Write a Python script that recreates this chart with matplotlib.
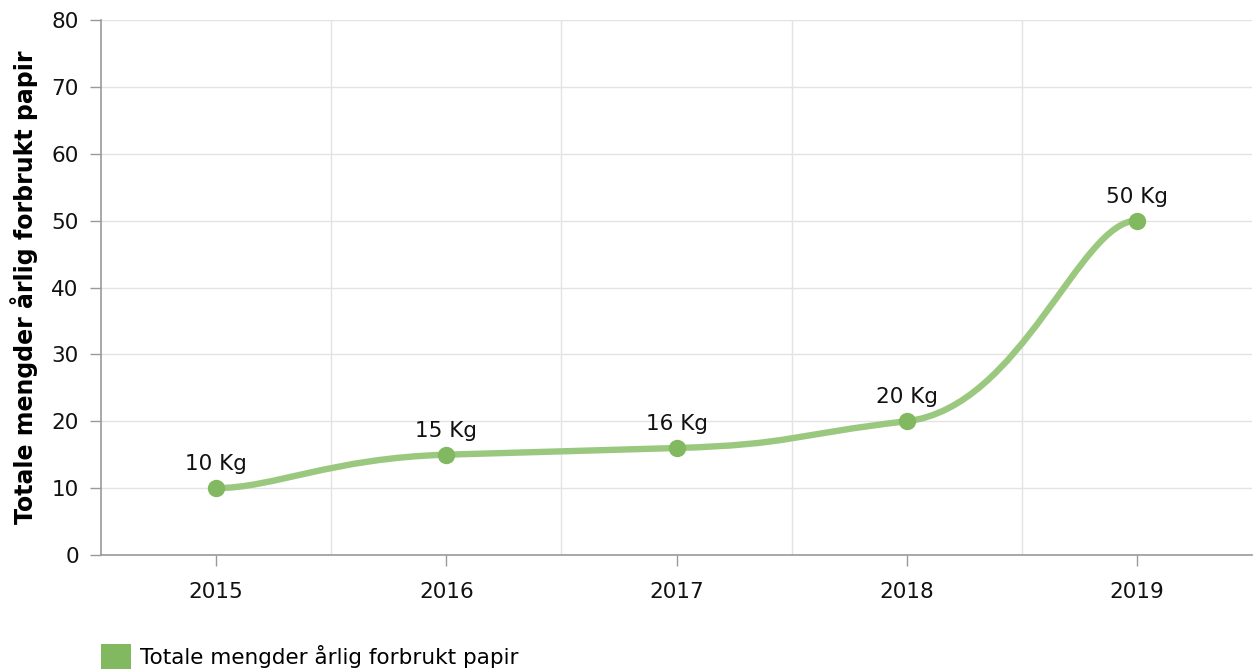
"""Totale mengder årlig forbrukt papir - spline line chart."""
import matplotlib
matplotlib.use("Agg")
import matplotlib.pyplot as plt
from matplotlib.path import Path
from matplotlib.patches import PathPatch, Patch

years = ["2015", "2016", "2017", "2018", "2019"]
values = [10, 15, 16, 20, 50]
labels = ["10 Kg", "15 Kg", "16 Kg", "20 Kg", "50 Kg"]
series_name = "Totale mengder årlig forbrukt papir"

LINE_COLOR = "#9bc87f"
MARKER_COLOR = "#82b85f"
GRID_COLOR = "#e3e3e3"
AXIS_COLOR = "#999999"

plt.rcParams['font.family'] = ['DejaVu Sans']


def spline_path(xs, ys, k=0.25):
    """Bezier spline: monotone-ish slopes, arm length from neighbour spacing."""
    n = len(xs)
    arms, slopes = [], []
    for i in range(n):
        x_prev = xs[i - 1] if i > 0 else xs[i]
        x_next = xs[i + 1] if i < n - 1 else xs[i]
        arms.append(k * (x_next - x_prev))
        if 0 < i < n - 1:
            s0 = (ys[i] - ys[i - 1]) / (xs[i] - xs[i - 1])
            s1 = (ys[i + 1] - ys[i]) / (xs[i + 1] - xs[i])
            if s0 * s1 > 0:
                sign = 1 if s0 > 0 else -1
                slopes.append(sign * min(abs(s0), abs(s1)))
            else:
                slopes.append(0.0)
        else:
            slopes.append(0.0)
    verts = [(xs[0], ys[0])]
    codes = [Path.MOVETO]
    for i in range(1, n):
        a0, a1 = arms[i - 1], arms[i]
        verts += [(xs[i - 1] + a0, ys[i - 1] + a0 * slopes[i - 1]),
                  (xs[i] - a1, ys[i] - a1 * slopes[i]),
                  (xs[i], ys[i])]
        codes += [Path.CURVE4] * 3
    return Path(verts, codes)


fig = plt.figure(figsize=(12.56, 6.70), dpi=100)
ax = fig.add_axes([101 / 1256, 115 / 670, 1151 / 1256, 535 / 670])

xs = list(range(len(years)))
ax.add_patch(PathPatch(spline_path(xs, values), facecolor='none',
                       edgecolor=LINE_COLOR, linewidth=4.6,
                       capstyle='round', zorder=3))
ax.plot(xs, values, linestyle='none', marker='o', markersize=11.5,
        color=MARKER_COLOR, zorder=4)
for x, v, lab in zip(xs, values, labels):
    ax.annotate(lab, (x, v), xytext=(0, 10), textcoords='offset points',
                ha='center', va='bottom', fontsize=15.5, color='#111111')

ax.set_xlim(-0.5, len(years) - 0.5)
ax.set_ylim(0, 80)
ax.set_yticks(range(0, 81, 10))
ax.set_xticks(xs)
ax.set_xticklabels(years)
ax.set_xticks([i + 0.5 for i in range(len(years) - 1)], minor=True)

ax.grid(True, axis='y', color=GRID_COLOR, linewidth=1)
ax.grid(True, axis='x', which='minor', color=GRID_COLOR, linewidth=1)
ax.set_axisbelow(True)
for side in ['top', 'right']:
    ax.spines[side].set_visible(False)
for side in ['left', 'bottom']:
    ax.spines[side].set_color(AXIS_COLOR)
    ax.spines[side].set_linewidth(1.2)

ax.tick_params(axis='both', which='major', labelsize=15.5, color=AXIS_COLOR,
               labelcolor='#111111', length=8, width=1)
ax.tick_params(axis='x', which='major', pad=11.5)
ax.tick_params(axis='y', which='major', pad=8)
ax.tick_params(axis='x', which='minor', length=0)

ax.set_ylabel('Totale mengder årlig forbrukt papir', fontsize=17,
              fontweight='bold', labelpad=10)

ax.legend(handles=[Patch(facecolor=MARKER_COLOR, edgecolor='none',
                         label=series_name)],
          loc='upper left', bbox_to_anchor=(99 / 1256, 1 - 642 / 670),
          bbox_transform=fig.transFigure, frameon=False, fontsize=15.5,
          handlelength=1.4, handleheight=1.4, handletextpad=0.4,
          borderaxespad=0, borderpad=0.1)

plt.savefig('out.png', dpi=100)
plt.close()
